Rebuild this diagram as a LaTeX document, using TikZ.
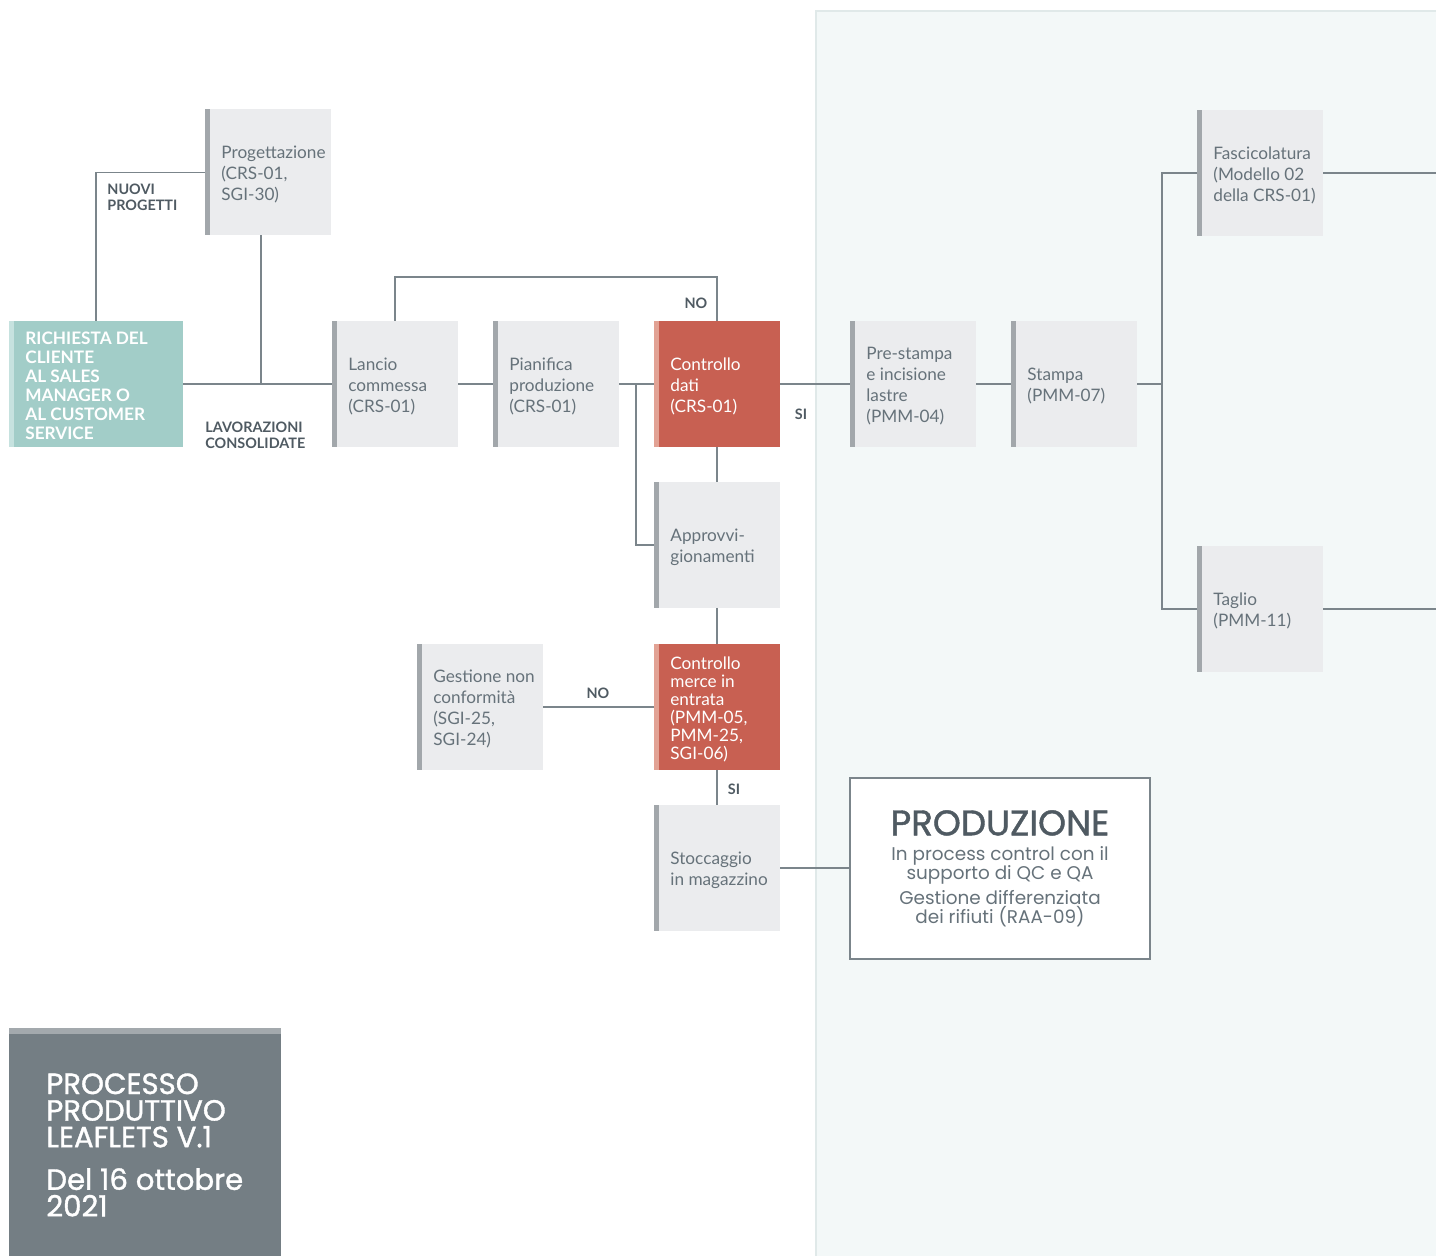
\documentclass[tikz,border=0pt]{standalone}
\usepackage{fontspec}
\setmainfont{Lato}
\newfontfamily\headfont{Poppins}
\newfontfamily\headmed{Poppins}[FakeBold=1.2]
\usetikzlibrary{positioning}

\definecolor{boxgrey}{HTML}{EBECEE}
\definecolor{bargrey}{HTML}{A2A7AB}
\definecolor{textgrey}{HTML}{66727A}
\definecolor{labelgrey}{HTML}{4F5A62}
\definecolor{linegrey}{HTML}{7B858B}
\definecolor{checkred}{HTML}{C86052}
\definecolor{checkbar}{HTML}{E2A294}
\definecolor{reqteal}{HTML}{A2CDC8}
\definecolor{reqbar}{HTML}{C6E2DF}
\definecolor{panel}{HTML}{F3F8F8}
\definecolor{panelline}{HTML}{E0E9E9}
\definecolor{titlegrey}{HTML}{747E84}
\definecolor{titlebar}{HTML}{A3A9AD}

\tikzset{
  leftbar/.style={path picture={\fill[#1] (path picture bounding box.north west) rectangle ([xshift=2.6pt]path picture bounding box.south west);}},
  procbox/.style={fill=boxgrey, leftbar=bargrey, minimum width=63pt, minimum height=63pt, inner sep=0pt, outer sep=0pt},
  checkbox/.style={procbox, fill=checkred, leftbar=checkbar},
  boxtext/.style={anchor=west, align=left, inner sep=0pt, yshift=-1pt, text=textgrey, font=\fontsize{8.6}{10.5}\selectfont},
  flow/.style={draw=linegrey, line width=0.6pt},
  tag/.style={inner sep=0pt, text=labelgrey, font=\bfseries\fontsize{7.2}{8}\selectfont}
}

\begin{document}
\begin{tikzpicture}[x=0.5pt,y=-0.5pt]
\useasboundingbox (0,0) rectangle (1436,1256);

% Production area
\fill[panel] (816,11) rectangle (1436,1256);
\draw[panelline,line width=0.6pt] (816,1256) -- (816,11) -- (1436,11);

% Boxes
\node[procbox, fill=reqteal, leftbar=reqbar, minimum width=87pt] (req) at (96,384) {};
\node[procbox] (prog) at (268,172.5) {};
\node[procbox] (lancio) at (395,384) {};
\node[procbox, right=17.5pt of lancio] (pian) {};
\node[checkbox, right=17.5pt of pian] (cdati) {};
\node[procbox, right=35pt of cdati] (prest) {};
\node[procbox, right=17.5pt of prest] (stampa) {};
\node[procbox] (fasc) at (1260,173) {};
\node[procbox] (taglio) at (1260,609) {};
\node[procbox, below=17.5pt of cdati] (approv) {};
\node[checkbox, below=18pt of approv] (cmerce) {};
\node[procbox, left=55.5pt of cmerce] (gest) {};
\node[procbox, below=17.5pt of cmerce] (stocc) {};

% Box texts
\node[boxtext, text=white, font=\bfseries\fontsize{8.6}{9.5}\selectfont] (req-t) at ([xshift=8pt]req.west)
  {RICHIESTA DEL\\CLIENTE\\AL SALES\\MANAGER O\\AL CUSTOMER\\SERVICE};
\node[boxtext] (prog-t) at ([xshift=8pt]prog.west) {Progettazione\\(CRS-01,\\SGI-30)};
\node[boxtext] (lancio-t) at ([xshift=8pt]lancio.west) {Lancio\\commessa\\(CRS-01)};
\node[boxtext] (pian-t) at ([xshift=8pt]pian.west) {Pianifica\\produzione\\(CRS-01)};
\node[boxtext, text=white] (cdati-t) at ([xshift=8pt]cdati.west) {Controllo\\dati\\(CRS-01)};
\node[boxtext] (prest-t) at ([xshift=8pt]prest.west) {Pre-stampa\\e incisione\\lastre\\(PMM-04)};
\node[boxtext] (stampa-t) at ([xshift=8pt]stampa.west) {Stampa\\(PMM-07)};
\node[boxtext] (fasc-t) at ([xshift=8pt]fasc.west) {Fascicolatura\\(Modello 02\\della CRS-01)};
\node[boxtext] (taglio-t) at ([xshift=8pt]taglio.west) {Taglio\\(PMM-11)};
\node[boxtext] (approv-t) at ([xshift=8pt]approv.west) {Approvvi-\\gionamenti};
\node[boxtext, text=white, font=\fontsize{8.6}{9}\selectfont] (cmerce-t) at ([xshift=8pt]cmerce.west)
  {Controllo\\merce in\\entrata\\(PMM-05,\\PMM-25,\\SGI-06)};
\node[boxtext] (gest-t) at ([xshift=8pt]gest.west) {Gestione non\\conformità\\(SGI-25,\\SGI-24)};
\node[boxtext] (stocc-t) at ([xshift=8pt]stocc.west) {Stoccaggio\\in magazzino};

% Production summary
\node[draw=linegrey, line width=0.6pt, fill=white, minimum width=150pt, minimum height=90.5pt,
  align=center, text=textgrey, font=\headfont\fontsize{9.2}{9.6}\selectfont] (prod) at (1000,868.5)
  {{\headmed\fontsize{17.8}{16}\selectfont\color{labelgrey}PRODUZIONE}\\[3pt]
   In process control con il\\supporto di QC e QA\\[2.6pt]
   Gestione differenziata\\dei rifiuti (RAA-09)};

% Title
\node[fill=titlegrey, minimum width=136pt, minimum height=114pt, inner sep=0pt, outer sep=0pt] (title) at (145,1142) {};
\fill[titlebar] (title.north west) rectangle ([yshift=-2.8pt]title.north east);
\node[anchor=north west, align=left, inner sep=0pt, text=white,
  font=\headmed\fontsize{14.6}{13.3}\selectfont] (title-t) at (46,1073)
  {PROCESSO\\PRODUTTIVO\\LEAFLETS V.1\\[8pt]Del 16 ottobre\\2021};

% Split points
\coordinate (noloop) at (395,277);
\coordinate (split1) at (636,384);
\coordinate (split2) at (1162,384);
\coordinate (fasc-out) at (1436,173);
\coordinate (taglio-out) at (1436,609);

% Connectors
\draw[flow] (req.east) -- (lancio.west);
\draw[flow] ([xshift=-3.5pt]prog.south) -- ([xshift=-3.5pt]prog.south |- req.east);
\draw[flow] (req.north) |- (prog.west);
\draw[flow] (lancio.east) -- (pian.west);
\draw[flow] (lancio.north) -- (noloop) -| (cdati.north);
\draw[flow] (pian.east) -- (cdati.west);
\draw[flow] (split1) |- (approv.west);
\draw[flow] (cdati.south) -- (approv.north);
\draw[flow] (cdati.east) -- (prest.west);
\draw[flow] (prest.east) -- (stampa.west);
\draw[flow] (stampa.east) -- (split2);
\draw[flow] (fasc.west) -| (split2) |- (taglio.west);
\draw[flow] (fasc.east) -- (fasc-out);
\draw[flow] (taglio.east) -- (taglio-out);
\draw[flow] (approv.south) -- (cmerce.north);
\draw[flow] (cmerce.west) -- (gest.east);
\draw[flow] (cmerce.south) -- (stocc.north);
\draw[flow] (stocc.east) -- (stocc.east -| prod.west);

% Labels
\node[tag, anchor=north west, align=left] (nuovi) at (107,184) {NUOVI\\PROGETTI};
\node[tag, anchor=north west, align=left] (lavor) at (205,422) {LAVORAZIONI\\CONSOLIDATE};
\node[tag] (no-top) at (696,303) {NO};
\node[tag] (si-top) at (801,414) {SI};
\node[tag] (no-low) at (598,693) {NO};
\node[tag] (si-low) at (734,789) {SI};

\end{tikzpicture}
\end{document}
